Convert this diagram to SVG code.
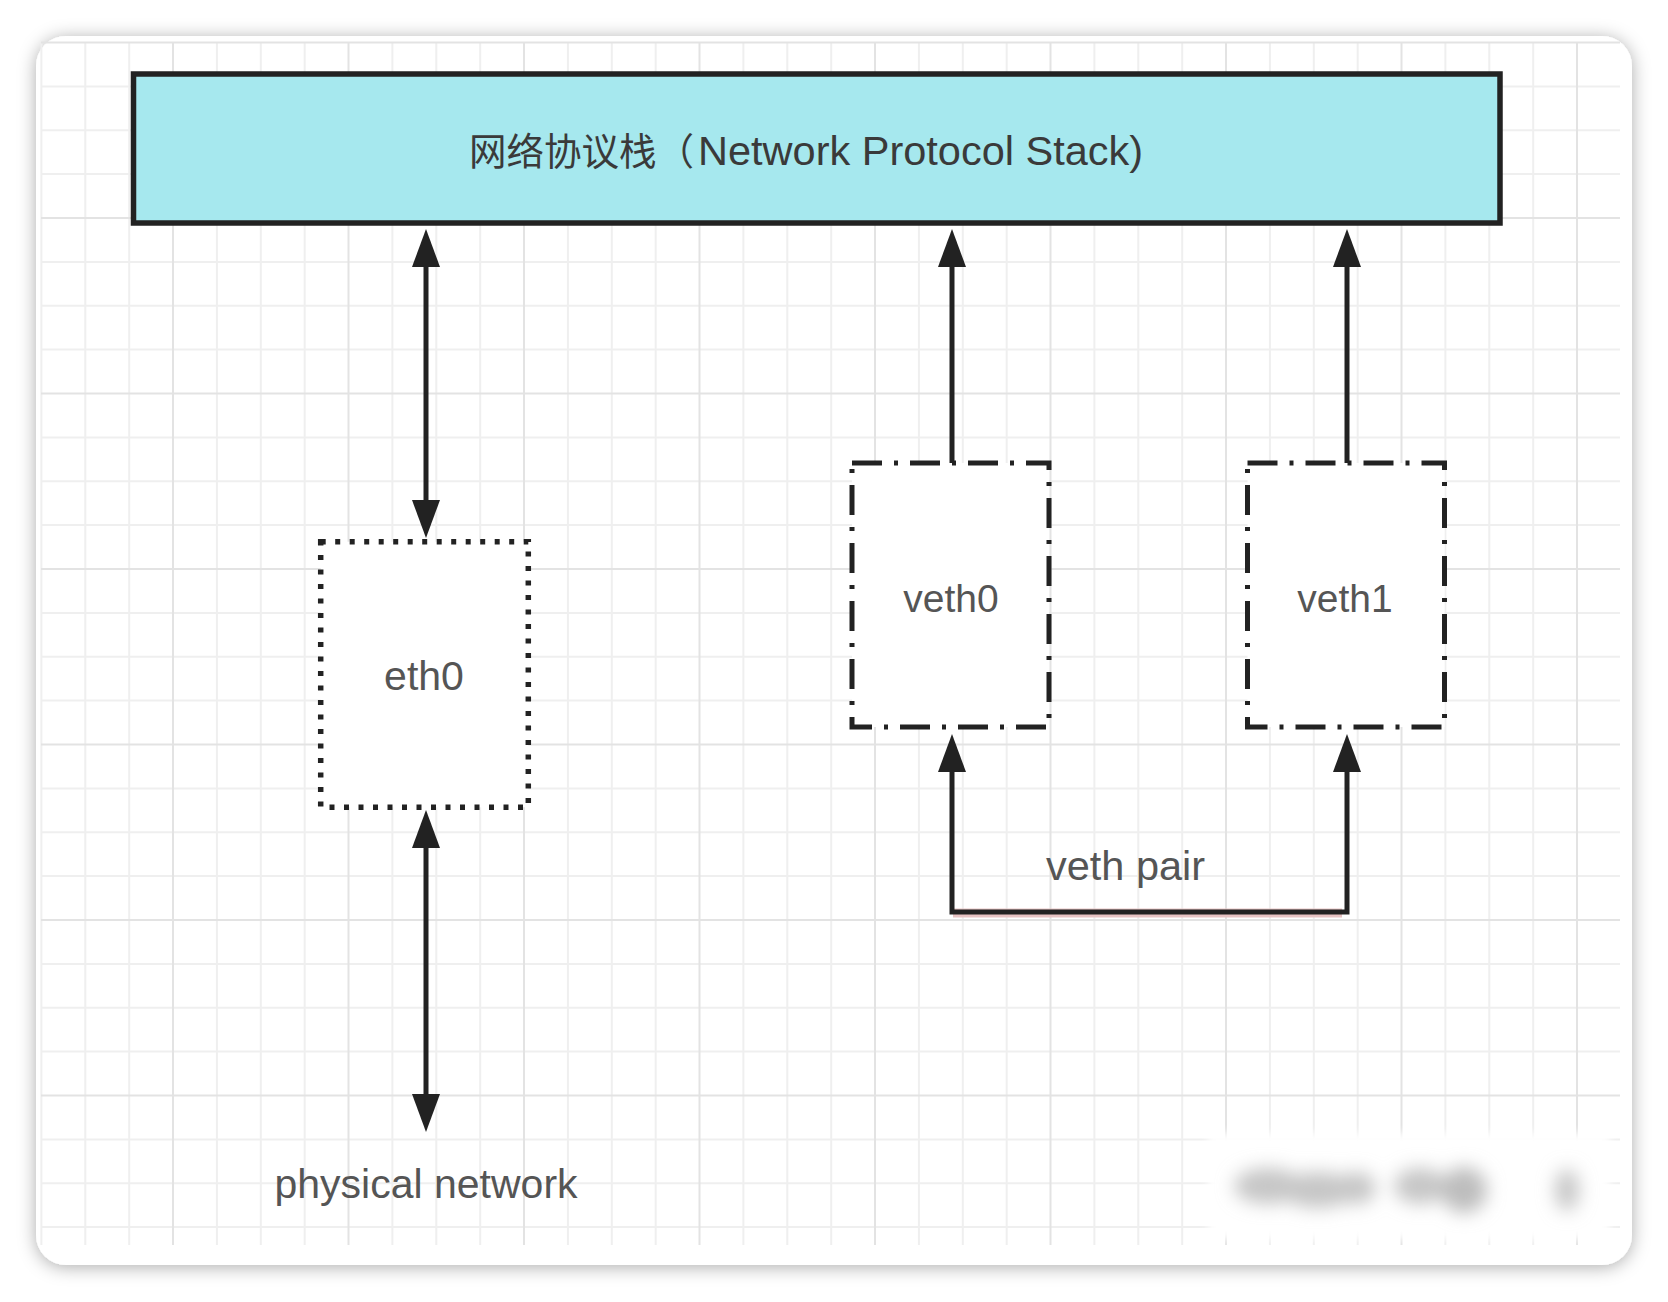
<svg xmlns="http://www.w3.org/2000/svg" width="1668" height="1302" viewBox="0 0 1668 1302">
  <defs>
    <filter id="cardShadow" x="-5%" y="-5%" width="110%" height="110%">
      <feDropShadow dx="0" dy="2" stdDeviation="9" flood-color="#000" flood-opacity="0.33"/>
    </filter>
    <filter id="blurWm" x="-20%" y="-50%" width="140%" height="200%">
      <feGaussianBlur stdDeviation="9"/>
    </filter>
    <filter id="blurSoft" x="-10%" y="-30%" width="120%" height="160%">
      <feGaussianBlur stdDeviation="4"/>
    </filter>
    <marker id="arrow" viewBox="0 0 38 28" markerWidth="38" markerHeight="28" refX="1" refY="14" orient="auto-start-reverse" markerUnits="userSpaceOnUse">
      <path d="M0,0 L38,14 L0,28 Z" fill="#222"/>
    </marker>
    <style>
      .minor { stroke:#efefef; stroke-width:2; fill:none; }
      .major { stroke:#e3e3e3; stroke-width:2; fill:none; }
      .conn { fill:none; stroke:#222; stroke-width:5; }
      .lbl { font-family:"Liberation Sans", Arial, sans-serif; fill:#555555; text-anchor:middle; }
      .vethbox { fill:#fff; stroke:#222; stroke-width:5; stroke-dasharray:30 12 4 12; }
      .ethbox { fill:#fff; stroke:#222; stroke-width:5.5; stroke-dasharray:5 9.5; }
    </style>
  </defs>

  <rect x="0" y="0" width="1668" height="1302" fill="#ffffff"/>
  <rect id="card" x="36" y="36" width="1596" height="1229" rx="30" ry="30" fill="#ffffff" filter="url(#cardShadow)"/>

  <g id="grid">
    <path class="minor" d="M41.4 42V1245M85.3 42V1245M129.2 42V1245M216.9 42V1245M260.8 42V1245M304.7 42V1245M392.4 42V1245M436.3 42V1245M480.2 42V1245M567.9 42V1245M611.8 42V1245M655.7 42V1245M743.4 42V1245M787.3 42V1245M831.2 42V1245M918.9 42V1245M962.8 42V1245M1006.7 42V1245M1094.4 42V1245M1138.3 42V1245M1182.2 42V1245M1269.9 42V1245M1313.8 42V1245M1357.7 42V1245M1445.4 42V1245M1489.3 42V1245M1533.2 42V1245"/>
    <path class="minor" d="M41 86.4H1620M41 130.3H1620M41 174.1H1620M41 261.9H1620M41 305.8H1620M41 349.6H1620M41 437.4H1620M41 481.3H1620M41 525.1H1620M41 612.9H1620M41 656.8H1620M41 700.6H1620M41 788.4H1620M41 832.3H1620M41 876.1H1620M41 963.9H1620M41 1007.8H1620M41 1051.6H1620M41 1139.4H1620M41 1183.3H1620M41 1227.1H1620"/>
    <path class="major" d="M173 42V1245M348.5 42V1245M524 42V1245M699.5 42V1245M875 42V1245M1050.5 42V1245M1226 42V1245M1401.5 42V1245M1577 42V1245"/>
    <path class="major" d="M41 42.5H1620M41 218H1620M41 393.5H1620M41 569H1620M41 744.5H1620M41 920H1620M41 1095.5H1620"/>
  </g>

  <g id="watermark">
    <rect x="1208" y="1133" width="402" height="106" fill="#ffffff" filter="url(#blurSoft)"/>
    <g filter="url(#blurWm)" fill="#c6c6c6">
      <ellipse cx="1268" cy="1186" rx="34" ry="18"/>
      <ellipse cx="1318" cy="1190" rx="36" ry="18"/>
      <ellipse cx="1356" cy="1188" rx="20" ry="16"/>
      <ellipse cx="1420" cy="1186" rx="26" ry="18"/>
      <ellipse cx="1464" cy="1190" rx="23" ry="23" fill="#bdbdbd"/>
      <ellipse cx="1567" cy="1190" rx="12" ry="21"/>
    </g>
  </g>

  <g id="stack">
    <rect x="133.5" y="74" width="1366.5" height="149" fill="#a6e8ee" stroke="#222" stroke-width="5.5"/>
    <text y="165" fill="#3a3a3a"><tspan x="469" font-size="37.5" font-family="'Noto Sans CJK SC', 'Liberation Sans', sans-serif">网络协议栈（</tspan><tspan x="698" font-size="41.5" font-family="'Liberation Sans', Arial, sans-serif">Network Protocol Stack)</tspan></text>
  </g>

  <g id="eth0">
    <rect class="ethbox" x="320.7" y="541.7" width="207.6" height="265.6"/>
    <text class="lbl" x="424" y="690" font-size="41">eth0</text>
  </g>

  <g id="veth0">
    <rect class="vethbox" x="852" y="463" width="197" height="264"/>
    <text class="lbl" x="951" y="612" font-size="39">veth0</text>
  </g>

  <g id="veth1">
    <rect class="vethbox" x="1247.5" y="463" width="197" height="264"/>
    <text class="lbl" x="1345" y="612" font-size="39">veth1</text>
  </g>

  <g id="physical-network">
    <text class="lbl" x="426" y="1198" font-size="41">physical network</text>
  </g>

  <g id="connectors">
    <path class="conn" d="M426 266V501" marker-start="url(#arrow)" marker-end="url(#arrow)"/>
    <path class="conn" d="M426 847V1095" marker-start="url(#arrow)" marker-end="url(#arrow)"/>
    <path class="conn" d="M952 463V266" marker-end="url(#arrow)"/>
    <path class="conn" d="M1347 463V266" marker-end="url(#arrow)"/>
    <path d="M953 913H1342" fill="none" stroke="#e7c3c3" stroke-width="9"/>
    <path class="conn" d="M952 771V912H1347V771" marker-start="url(#arrow)" marker-end="url(#arrow)"/>
    <text class="lbl" x="1125.5" y="880" font-size="41.5">veth pair</text>
  </g>
</svg>
